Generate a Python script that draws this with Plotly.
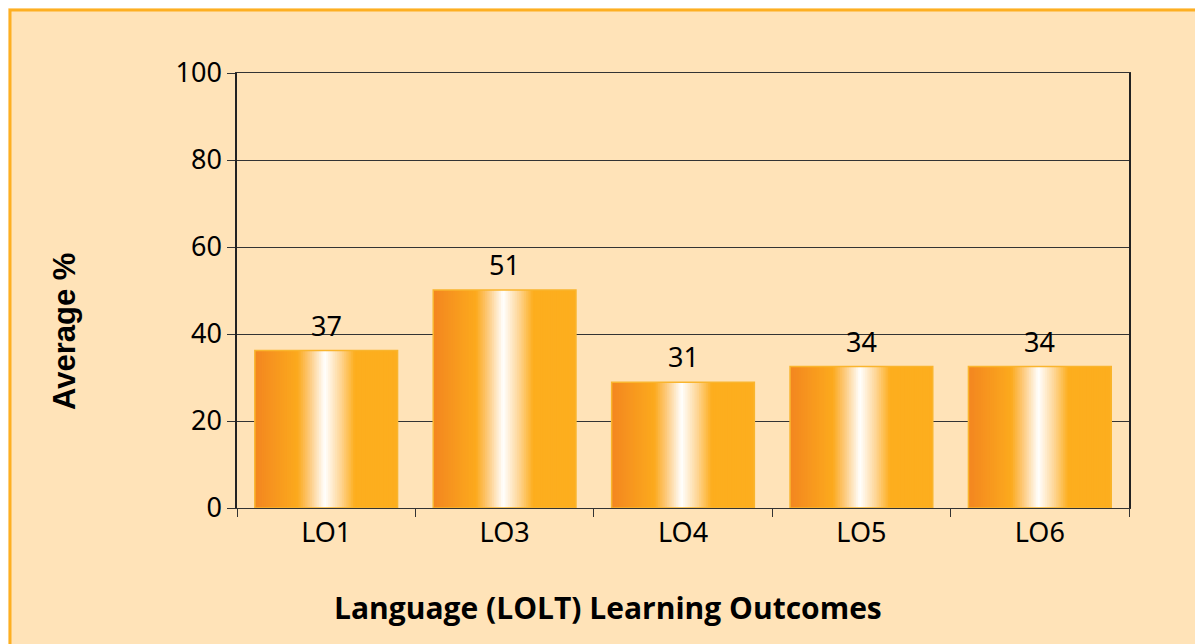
import plotly.graph_objects as go

categories = ["LO1", "LO3", "LO4", "LO5", "LO6"]
bar_heights = [36.2, 50.1, 28.9, 32.5, 32.5]
bar_labels = ["37", "51", "31", "34", "34"]
y_ticks = [0, 20, 40, 60, 80, 100]

# gradient stops across a bar (fraction of bar width, rgb)
stops = [(0.0, (243, 134, 32)), (0.30, (252, 170, 29)), (0.38, (253, 200, 120)),
         (0.49, (255, 255, 255)), (0.60, (254, 214, 150)), (0.70, (253, 174, 30)),
         (1.0, (253, 174, 30))]


def grad(t):
    for (t0, c0), (t1, c1) in zip(stops[:-1], stops[1:]):
        if t0 <= t <= t1:
            f = (t - t0) / (t1 - t0) if t1 > t0 else 0
            c = [round(a + (b - a) * f) for a, b in zip(c0, c1)]
            return "rgb(%d,%d,%d)" % tuple(c)
    return "rgb(%d,%d,%d)" % stops[-1][1]


BW = 0.8
N = 80
fig = go.Figure()
for i in range(N):
    o = -BW / 2 + i * BW / N
    fig.add_trace(go.Bar(
        x=categories, y=bar_heights, offset=o, width=BW - i * BW / N,
        marker=dict(color=grad((i + 0.5) / N), line=dict(width=0)),
        hoverinfo="skip", showlegend=False))

# outline
fig.add_trace(go.Bar(
    x=categories, y=bar_heights, offset=-BW / 2, width=BW,
    marker=dict(color="rgba(0,0,0,0)", line=dict(color="#F9B52E", width=1.5)),
    showlegend=False))

# plot area in screen px (page has an 8px body offset)
PL, PR, PT, PB = 237, 1129, 73, 508
PW, PH = PR - PL, PB - PT

fig.update_layout(
    barmode="overlay",
    width=1203, height=644,
    margin=dict(l=PL - 8, r=1203 - (PR - 8), t=PT - 8, b=644 - (PB - 8)),
    paper_bgcolor="#FFF0DA",
    plot_bgcolor="rgba(0,0,0,0)",
    font=dict(family="Noto Sans, Open Sans, sans-serif", size=27, color="#000"),
    xaxis=dict(
        type="category", range=[-0.5, 4.5],
        tickson="boundaries", ticks="outside", ticklen=8, tickcolor="#333", tickwidth=1.2,
        showline=True, linecolor="#333", linewidth=1.2, mirror=True,
        showgrid=False,
        tickfont=dict(size=27),
    ),
    yaxis=dict(
        range=[0, 100], tickvals=y_ticks,
        ticks="outside", ticklen=8, tickcolor="#333", tickwidth=1.2,
        showline=True, linecolor="#222", linewidth=1.5, mirror=True,
        showgrid=True, gridcolor="#333", gridwidth=1.2,
        zeroline=False,
        tickfont=dict(size=27),
    ),
    shapes=[dict(type="rect", xref="paper", yref="paper",
                 x0=(10 - PL) / PW, x1=1.5, y0=-1.0, y1=(PB - 10) / PH,
                 fillcolor="#FFE3B8", line=dict(color="#FDAF22", width=3), layer="below")],
)

for c, h, lab in zip(categories, bar_heights, bar_labels):
    fig.add_annotation(x=c, y=h, text=lab, showarrow=False, yanchor="bottom", yshift=5,
                       font=dict(size=27, color="#000"))

fig.add_annotation(xref="paper", yref="paper", x=(608 - PL) / PW, y=(PB - 607) / PH,
                   text="<b>Language (LOLT) Learning Outcomes</b>", showarrow=False,
                   xanchor="center", yanchor="middle",
                   font=dict(family="Open Sans, Noto Sans, sans-serif", size=30, color="#000"))
fig.add_annotation(xref="paper", yref="paper", x=(64 - PL) / PW, y=(PB - 332) / PH,
                   text="<b>Average %</b>", showarrow=False, textangle=-90,
                   xanchor="center", yanchor="middle",
                   font=dict(family="Liberation Sans, Arial, sans-serif", size=31, color="#000"))

fig.write_html("out.html")
